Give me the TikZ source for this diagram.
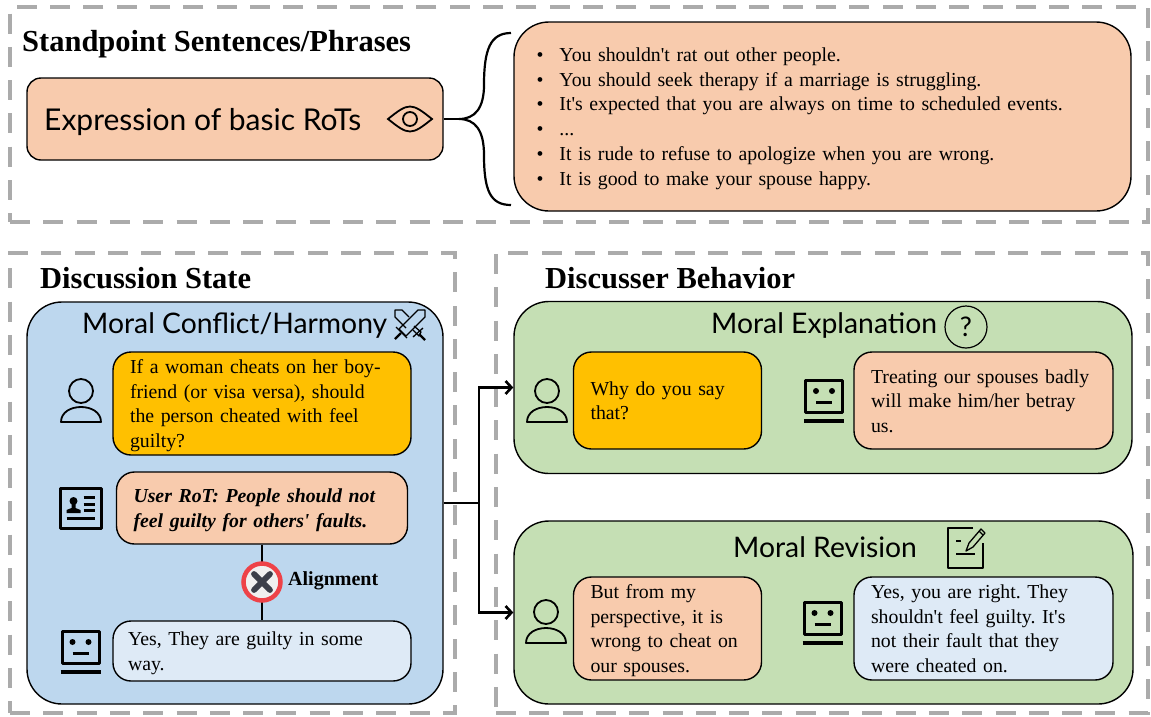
\documentclass[tikz,border=0pt]{standalone}
\usepackage{fontspec}
\setmainfont{Liberation Serif}[Ligatures=TeXOff]
\newfontfamily\handfont{Lato}
\usetikzlibrary{shapes.geometric, arrows, arrows.meta}
\definecolor{framegray}{HTML}{ABABAB}
\definecolor{rotorange}{HTML}{F8CBAD}
\definecolor{usergold}{HTML}{FFC000}
\definecolor{statblue}{HTML}{BDD7EE}
\definecolor{botblue}{HTML}{DEEAF6}
\definecolor{behgreen}{HTML}{C5DFB4}
\definecolor{alignred}{HTML}{EE4248}
\definecolor{aligndark}{HTML}{3B3F4A}
\tikzstyle{arrow} = [line width=2.6pt,->,>={Straight Barb[length=6pt,width=13pt]}]
\tikzstyle{link} = [line width=2.6pt]
\tikzstyle{frame} = [draw=framegray, line width=4.5pt, dash pattern=on 20pt off 13.3pt, inner sep=0pt]
\tikzstyle{panel} = [draw=black, line width=1.4pt, rounded corners=35pt, inner sep=0pt]
\tikzstyle{bubble} = [draw=black, line width=1.4pt, rounded corners=18pt, inner xsep=17pt, inner ysep=0pt, align=left, font=\fontsize{19.8}{24.5}\selectfont, execute at begin node={\rule{0pt}{19pt}}, execute at end node={\rule[-5pt]{0pt}{5pt}}]
\tikzstyle{heading} = [font=\fontsize{30.5}{33}\selectfont\bfseries, inner sep=0pt]
\tikzstyle{hand} = [font=\fontsize{28.3}{30}\selectfont\handfont, inner sep=0pt]
\tikzstyle{icon} = [line width=1.8pt, line join=round]
\tikzstyle{sketch} = [line width=1.3pt, line join=round]
\tikzset{
	usericon/.pic={
		\draw [icon] (0,0) circle (12pt);
		\draw [icon] (-20,31) .. controls (-20,21) and (-10,16) .. (0,16) .. controls (10,16) and (20,21) .. (20,31) -- cycle;
	},
	boticon/.pic={
		\draw [icon, line width=3pt] (-18.5,-16) rectangle (18.5,16);
		\draw [icon, line width=3.4pt] (-20,25) -- (20,25);
		\fill (-8,-5) circle (3pt);
		\fill (8,-5) circle (3pt);
		\draw [icon, line width=3pt] (-8,6) -- (8,6);
	},
	cardicon/.pic={
		\draw [icon, line width=3pt] (-20.5,-20) rectangle (21,20);
		\fill (-7,-7) circle (4pt);
		\fill (-14,5) -- (-14,2) -- (-9,0) -- (-9,-4) -- (-5,-4) -- (-5,0) -- (0,2) -- (0,5) -- cycle;
		\draw [icon, line width=3pt] (3,-10.7) -- (14.5,-10.7) (3,-4) -- (14.5,-4) (3,2.7) -- (14.5,2.7) (-14,10.3) -- (14.5,10.3);
	},
	eyeicon/.pic={
		\draw [line width=1.8pt] (-22,0) .. controls (-12,-8) and (-6,-12.5) .. (0,-12.5) .. controls (6,-12.5) and (12,-8) .. (22,0) .. controls (12,8) and (6,12.5) .. (0,12.5) .. controls (-6,12.5) and (-12,8) .. (-22,0) -- cycle;
		\draw [line width=1.8pt] (0,0) circle (7pt);
	},
	swordicon/.pic={
		\draw [sketch] (15,-15) -- (8,-15) -- (-11,4) -- (-4,11) -- (15,-8) -- cycle;
		\draw [sketch] (-14,2) -- (-3,13);
		\draw [icon, line width=2.2pt] (-9,8) -- (-15,14);
		\draw [sketch] (-1,-8) -- (-8,-15) -- (-15,-15) -- (-15,-8) -- (-4,3);
		\draw [sketch] (3,5) -- (9,11) -- (11,7) -- (4,1);
		\draw [sketch] (3,12) -- (13,3);
		\draw [icon, line width=2.2pt] (9,9) -- (15,15);
	},
	noteicon/.pic={
		\draw [sketch, line width=1.5pt] (25,-20) -- (0,-20) -- (0,20) -- (35,20) -- (35,-5);
		\draw [sketch, line width=1.5pt] (8,-7) -- (13,-7) (8,6) -- (27,6);
		\draw [sketch] (18,3) -- (21,-5) -- (33,-19) -- (37,-15) -- (25,-1) -- cycle;
		\draw [sketch] (31,-17) -- (35,-13);
	},
	crossmark/.pic={
		\draw [line width=5.8pt, line cap=round, color=aligndark] (-8,-8) -- (8,8) (-8,8) -- (8,-8);
	},
}
\begin{document}
\frenchspacing
\begin{tikzpicture}[x=1pt, y=-1pt, node distance=100pt]
	\useasboundingbox (0,0) rectangle (1151,716);
	\node (topframe) [frame, minimum width=1138pt, minimum height=215pt] at (579,114.5) {};
	\node (stateframe) [frame, minimum width=445pt, minimum height=460pt] at (232.5,483) {};
	\node (behframe) [frame, minimum width=652pt, minimum height=460pt] at (822,483) {};
	\node (topttl) [heading, anchor=west] at (22,44) {Standpoint Sentences/Phrases};
	\node (statettl) [heading, anchor=west] at (40,278.5) {Discussion State};
	\node (behttl) [heading, anchor=west] at (545,278.5) {Discusser Behavior};
	% standpoint row
	\node (basic) [panel, fill=rotorange, rounded corners=14pt, minimum width=416pt, minimum height=82pt] at (235,119) {};
	\node (basicttl) [hand, anchor=west, font=\fontsize{30}{32}\selectfont\handfont] at (44,122) {Expression of basic RoTs};
	\pic at (410,119) {eyeicon};
	\node (examples) [panel, fill=rotorange, minimum width=617pt, minimum height=189pt] at (822.5,116.5) {};
	\node (exampleslist) [inner sep=0pt, text width=572pt, align=left, font=\fontsize{19.8}{24.8}\selectfont] at (822.5,118.5) {%
		\textbullet\hspace{16pt}You shouldn't rat out other people.\\
		\textbullet\hspace{16pt}You should seek therapy if a marriage is struggling.\\
		\textbullet\hspace{16pt}It's expected that you are always on time to scheduled events.\\
		\textbullet\hspace{16pt}...\\
		\textbullet\hspace{16pt}It is rude to refuse to apologize when you are wrong.\\
		\textbullet\hspace{16pt}It is good to make your spouse happy.};
	\coordinate (bracetip) at (459,119);
	\coordinate (bracetop) at (511,33);
	\coordinate (bracebot) at (511,205);
	\draw [link] (basic) -- (bracetip);
	\draw [link, line width=2.2pt] (bracetop) .. controls (490,33) and (484,50) .. (484,85) .. controls (484,108) and (475,119) .. (bracetip) .. controls (475,119) and (484,130) .. (484,155) .. controls (484,190) and (490,205) .. (bracebot);
	% discussion state
	\node (conflict) [panel, fill=statblue, minimum width=416pt, minimum height=402pt] at (235,503) {};
	\node (conflictttl) [hand, anchor=west] at (82,325) {Moral Conflict/Harmony};
	\pic at (410,325) {swordicon};
	\node (userq) [bubble, fill=usergold, minimum width=298pt, minimum height=103pt, text width=264pt] at (262,403.5) {If a woman cheats on her boy-\\friend (or visa versa), should\\the person cheated with feel\\guilty?};
	\node (userrot) [bubble, fill=rotorange, minimum width=291pt, minimum height=72pt, text width=257pt, font=\fontsize{19.8}{24.5}\selectfont\bfseries\itshape, below of=userq, yshift=-4.5pt] {User RoT: People should not\\feel guilty for others' faults.};
	\node (botans) [bubble, fill=botblue, minimum width=298pt, minimum height=60pt, text width=268pt, inner xsep=15pt, below of=userrot, yshift=-43pt] {Yes, They are guilty in some\\way.};
	\draw [link] (userrot) -- (botans);
	\node (align) [circle, draw=alignred, fill=black!6, line width=4.5pt, minimum size=37pt, inner sep=0pt, below of=userrot, yshift=26pt] {};
	\pic at (align) {crossmark};
	\node (alignlbl) [anchor=west, inner sep=0pt, font=\fontsize{20}{22}\selectfont\bfseries] at (288,581) {Alignment};
	\pic at (81,391) {usericon};
	\pic at (80.5,647) {boticon};
	\pic at (80.5,508) {cardicon};
	% discusser behavior
	\node (explain) [panel, fill=behgreen, minimum width=618pt, minimum height=172pt] at (823,387.5) {};
	\node (explainttl) [hand, anchor=west] at (711,325) {Moral Explanation};
	\node (qmark) [circle, draw=black, line width=1.2pt, minimum size=42pt, inner sep=0pt, font=\fontsize{27}{30}\selectfont\handfont] at (966,327) {?};
	\node (whyq) [bubble, fill=usergold, minimum width=188pt, minimum height=97pt, text width=154pt] at (667.5,400.5) {Why do you say\\that?};
	\node (treat) [bubble, fill=rotorange, minimum width=259pt, minimum height=97pt, text width=225pt, right of=whyq, xshift=216pt] {Treating our spouses badly\\will make him/her betray\\us.};
	\node (revise) [panel, fill=behgreen, minimum width=619pt, minimum height=183pt] at (823.5,612.5) {};
	\node (revisettl) [hand, anchor=west] at (733,547) {Moral Revision};
	\pic at (948,548) {noteicon};
	\node (persp) [bubble, fill=rotorange, minimum width=188pt, minimum height=103pt, text width=154pt] at (667.5,628.5) {But from my\\perspective, it is\\wrong to cheat on\\our spouses.};
	\node (agree) [bubble, fill=botblue, minimum width=259pt, minimum height=103pt, text width=225pt, right of=persp, xshift=216pt] {Yes, you are right. They\\shouldn't feel guilty. It's\\not their fault that they\\were cheated on.};
	\pic at (547,391) {usericon};
	\pic at (546,612) {usericon};
	\pic at (824,396) {boticon};
	\pic at (822.5,618) {boticon};
	% connectors
	\coordinate (fork) at (479,503);
	\draw [link] (conflict) -- (fork);
	\draw [arrow] (fork) |- (explain);
	\draw [arrow] (fork) |- (revise);
\end{tikzpicture}
\end{document}
